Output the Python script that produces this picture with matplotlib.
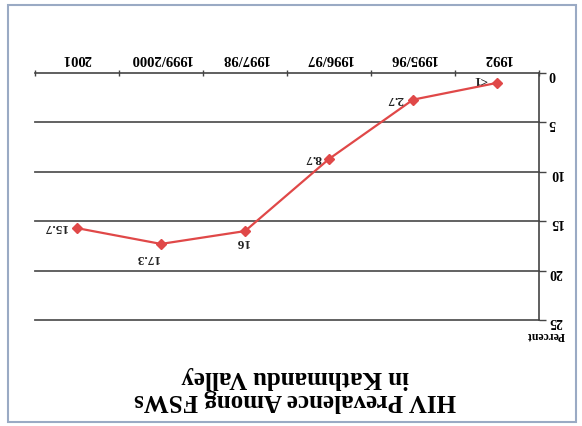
import numpy as np
import matplotlib
matplotlib.use("Agg")
import matplotlib.pyplot as plt
from matplotlib.patches import Rectangle

# data (chart is shown upside down, so everything is drawn rotated by 180 deg)
years = ['1992', '1995/96', '1996/97', '1997/98', '1999/2000', '2001']
prev = [1.0, 2.7, 8.7, 16, 17.3, 15.7]
prev_lbl = ['<1', '2.7', '8.7', '16', '17.3', '15.7']
yticks = [0, 5, 10, 15, 20, 25]

# label offsets in screen pixels
lbl_off = [(-17, 4), (-18, 1), (-16, 1), (-3, -11), (-14, -14), (-22, 1)]

plt.rcParams['font.family'] = ['Liberation Serif', 'DejaVu Serif']
plt.rcParams['font.weight'] = 'bold'

fig = plt.figure(figsize=(5.82, 4.26), dpi=100)
fig.patch.set_facecolor('white')
ax = fig.add_axes([35/582, 1-320/426, 504/582, 247/426])

x = np.arange(len(years))
ax.plot(x, prev, color='#e04848', lw=1.6, marker='D', ms=5, zorder=3)
for xi, v, s, off in zip(x, prev, prev_lbl, lbl_off):
    ax.annotate(s, (xi, v), xytext=off, textcoords='offset pixels',
                ha='center', va='center', rotation=180, fontsize=9.5,
                fontweight='bold', color='#222222')

# flip both axes
ax.set_xlim(len(years)-0.5, -0.5)
ax.set_ylim(25, 0)

ax.set_yticks(yticks)
ax.set_yticklabels([str(t) for t in yticks], rotation=180, fontsize=10,
                   fontweight='bold')
ax.yaxis.tick_right()
ax.tick_params(axis='y', length=5, width=1, color='#444444', pad=2)
for g in yticks[1:]:
    ax.axhline(g, color='#555555', lw=1.3, zorder=1, clip_on=False)

ax.xaxis.tick_top()
ax.set_xticks(x)
ax.set_xticklabels(years, rotation=180, fontsize=10.5, fontweight='bold')
ax.set_xticks(np.arange(-0.5, len(years)), minor=True)
ax.tick_params(axis='x', which='major', length=0, pad=6)
ax.tick_params(axis='x', which='minor', length=5, direction='inout',
               color='#444444', width=1)

ax.spines['left'].set_visible(False)
ax.spines['bottom'].set_visible(False)
ax.spines['top'].set_color('#444444')
ax.spines['right'].set_color('#444444')
ax.spines['top'].set_linewidth(1.2)
ax.spines['right'].set_linewidth(1.2)

fig.text(546/582, 1-335/426, 'Percent', rotation=180, ha='center',
         va='center', fontsize=8.5, fontweight='bold')
fig.text(295/582, 1-389/426, 'HIV Prevalence Among FSWs\nin Kathmandu Valley',
         rotation=180, ha='center', va='center', fontsize=18,
         fontweight='bold', linespacing=1.0)

fig.patches.append(Rectangle((8/582, 1-422/426), 568/582, 417/426,
                             transform=fig.transFigure, fill=False,
                             edgecolor='#9aaac4', lw=1.5))

fig.savefig('out.png', dpi=100)
